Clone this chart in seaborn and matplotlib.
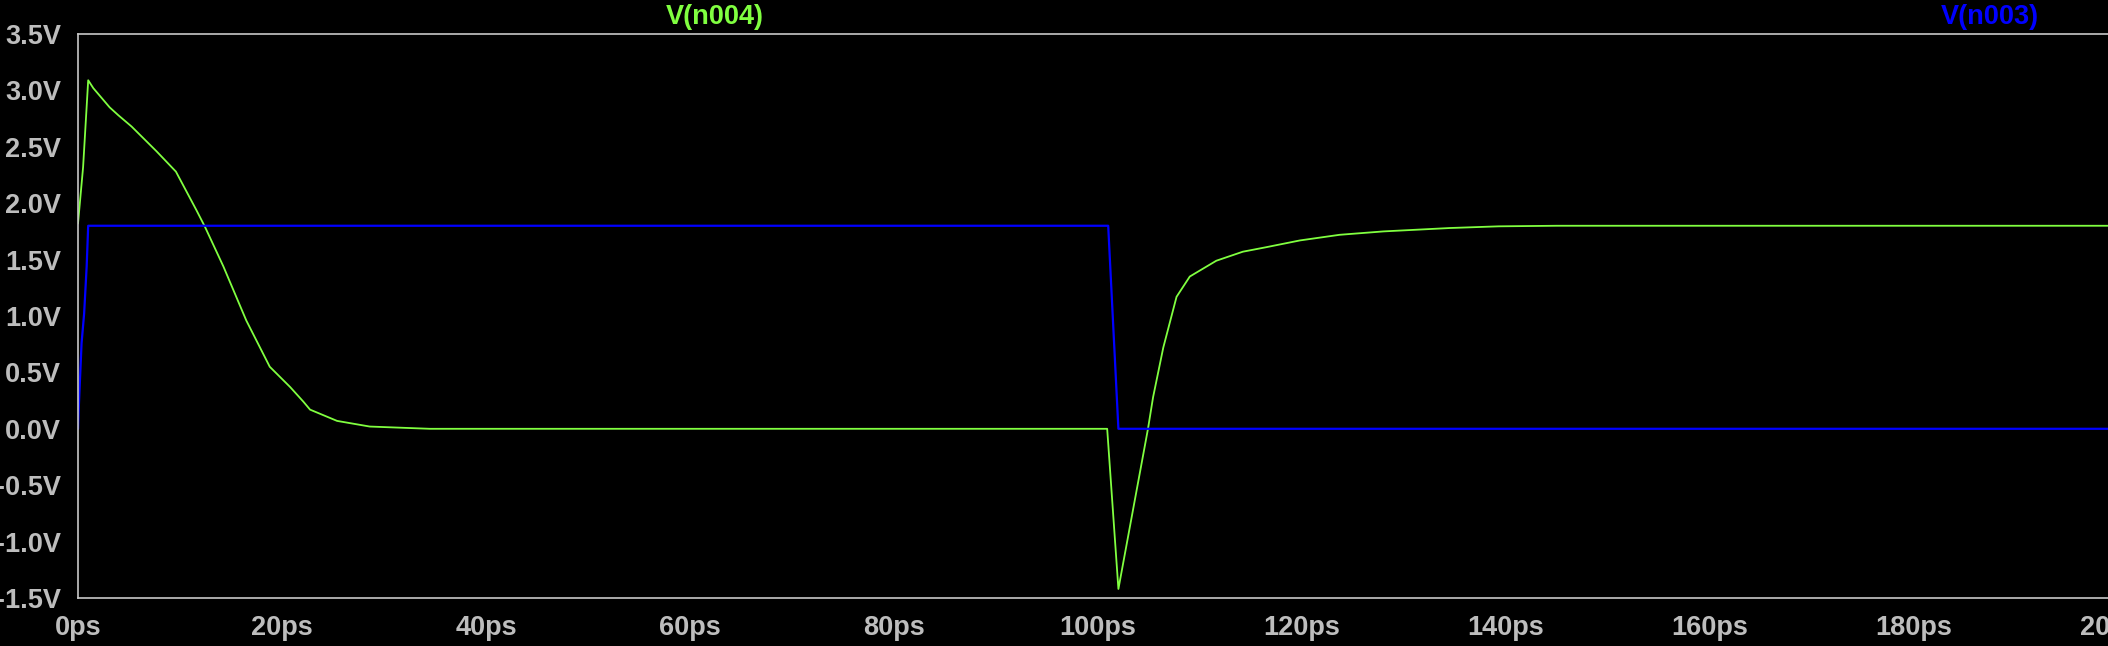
import matplotlib
matplotlib.use("Agg")
import matplotlib.pyplot as plt
import seaborn as sns
import pandas as pd
from matplotlib.ticker import FuncFormatter, MultipleLocator

# =========================
# Data
# =========================
t_n004 = [0, 0.5, 1.0, 1.5, 3.1, 3.95, 5.25, 7.7, 9.6, 11.6, 12.45, 14.25,
          16.5, 18.8, 20.8, 22.1, 22.75, 25.4, 28.6, 34.5, 60, 100.9, 102.0,
          104.9, 105.4, 106.4, 107.7, 109.0, 110.3, 111.6, 114.2,
          116.5, 119.8, 123.7, 128.0, 134.5, 139.3, 145, 199]
v_n004 = [1.82, 2.32, 3.09, 3.02, 2.85, 2.78, 2.68, 2.46, 2.28, 1.94, 1.79, 1.44,
          0.96, 0.55, 0.37, 0.24, 0.17, 0.07, 0.02, 0.0, 0.0, 0.0, -1.42,
          0.0, 0.28, 0.72, 1.17, 1.35, 1.42, 1.49, 1.57,
          1.61, 1.67, 1.72, 1.75, 1.78, 1.795, 1.80, 1.80]

t_n003 = [0, 0.1, 0.35, 0.6, 0.85, 1.0, 101.0, 102.0, 199]
v_n003 = [0, 0.24, 0.76, 1.02, 1.44, 1.8, 1.8, 0.0, 0.0]

df4 = pd.DataFrame({"t": t_n004, "v": v_n004})
df3 = pd.DataFrame({"t": t_n003, "v": v_n003})

# =========================
# Style
# =========================
sns.set_theme(style="dark", rc={
    "figure.facecolor": "black",
    "axes.facecolor": "black",
    "axes.edgecolor": "#c8c8c8",
    "axes.unicode_minus": False,
})
plt.rcParams["font.family"] = ["Liberation Sans", "DejaVu Sans"]

GREEN = "#80ff40"
BLUE = "#0000ff"
GRAY = "#bdbdbd"

fig = plt.figure(figsize=(21.08, 6.46), dpi=100)
ax = fig.add_axes([78 / 2108, 48 / 646, 2040 / 2108, 564 / 646])

sns.lineplot(data=df4, x="t", y="v", color=GREEN, linewidth=1.3, ax=ax)
sns.lineplot(data=df3, x="t", y="v", color=BLUE, linewidth=1.6, ax=ax)

ax.set_xlim(0, 200)
ax.set_ylim(-1.5, 3.5)
ax.xaxis.set_major_locator(MultipleLocator(20))
ax.yaxis.set_major_locator(MultipleLocator(0.5))
ax.xaxis.set_major_formatter(FuncFormatter(lambda x, p: f"{x:.0f}ps"))
ax.yaxis.set_major_formatter(FuncFormatter(lambda y, p: f"{y:.1f}V".replace("\u2212", "-")))

ax.tick_params(axis="both", which="major", length=11, width=1, color="#c8c8c8",
               labelcolor=GRAY, labelsize=19.5, direction="out")
ax.tick_params(axis="y", pad=1)
ax.tick_params(axis="x", pad=1.5)
for lab in ax.get_xticklabels() + ax.get_yticklabels():
    lab.set_fontweight("bold")

for s in ["top", "left", "bottom", "right"]:
    ax.spines[s].set_visible(True)
    ax.spines[s].set_linewidth(1.2)
    ax.spines[s].set_color("#c8c8c8")

ax.set_xlabel("")
ax.set_ylabel("")
ax.grid(False)

# trace names above the plot
fig.text(715 / 2108, 1 - 17 / 646, "V(n004)", color=GREEN, fontsize=19.5,
         fontweight="bold", ha="center", va="center")
fig.text(1990 / 2108, 1 - 17 / 646, "V(n003)", color=BLUE, fontsize=19.5,
         fontweight="bold", ha="center", va="center")

fig.savefig("out.png", dpi=100, facecolor="black")
